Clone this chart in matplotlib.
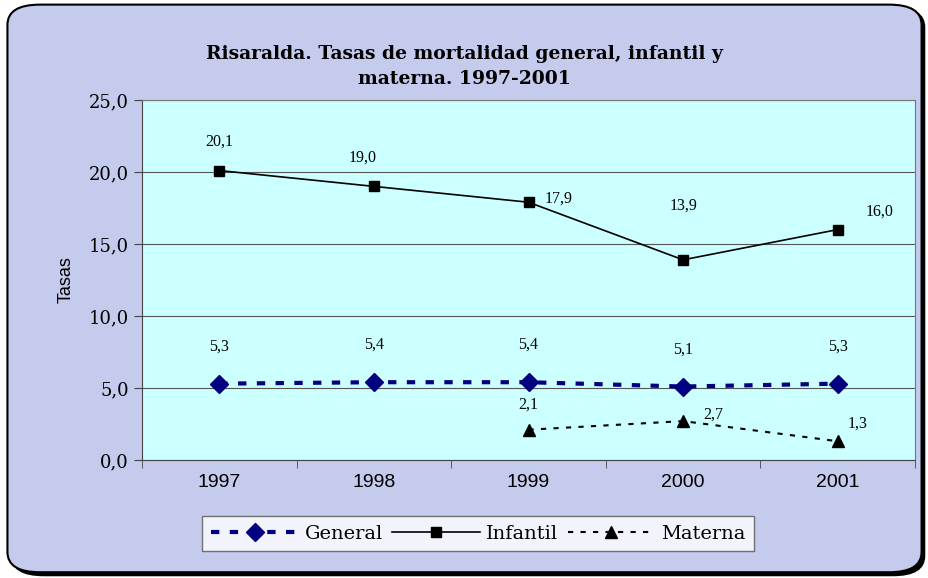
import numpy as np
import matplotlib.pyplot as plt
from matplotlib.patches import FancyBboxPatch

years = ["1997", "1998", "1999", "2000", "2001"]
general = [5.3, 5.4, 5.4, 5.1, 5.3]
infantil = [20.1, 19.0, 17.9, 13.9, 16.0]
materna = [np.nan, np.nan, 2.1, 2.7, 1.3]

general_lbl = ["5,3", "5,4", "5,4", "5,1", "5,3"]
infantil_lbl = ["20,1", "19,0", "17,9", "13,9", "16,0"]
materna_lbl = ["", "", "2,1", "2,7", "1,3"]

plt.rcParams['font.family'] = ['DejaVu Serif']

fig = plt.figure(figsize=(9.29, 5.78), dpi=100)
fig.patch.set_facecolor('white')

# rounded frame with shadow
shadow = FancyBboxPatch((0.012, 0.003), 0.984, 0.985, boxstyle="round,pad=0,rounding_size=0.035",
                        transform=fig.transFigure, facecolor='black', edgecolor='none', zorder=-3)
frame = FancyBboxPatch((0.008, 0.01), 0.984, 0.982, boxstyle="round,pad=0,rounding_size=0.035",
                       transform=fig.transFigure, facecolor='#c4cbec', edgecolor='black',
                       linewidth=1.5, zorder=-2)
fig.patches.extend([shadow, frame])

ax = fig.add_axes([0.1529, 0.2042, 0.832, 0.6228])
ax.set_facecolor('#ccffff')

x = np.arange(len(years))
ax.plot(x, general, color='#000080', linestyle=(0, (2.0, 2.5)), linewidth=3,
        marker='D', markersize=9, label='General', zorder=3)
ax.plot(x, infantil, color='black', linestyle='-', linewidth=1.2,
        marker='s', markersize=7, label='Infantil', zorder=3)
ax.plot(x, materna, color='black', linestyle=(0, (2.5, 3.5)), linewidth=1.5,
        marker='^', markersize=9, label='Materna', zorder=3)

ax.set_xlim(-0.5, 4.5)
ax.set_ylim(0, 25)
ax.set_yticks(np.arange(0, 26, 5))
ax.set_yticklabels([f"{v:.1f}".replace('.', ',') for v in np.arange(0, 26, 5)], fontsize=13)
ax.set_xticks(x)
ax.set_xticklabels(years, fontsize=14, family=['Liberation Sans'])
ax.set_xticks(np.arange(-0.5, 5, 1), minor=True)
ax.tick_params(axis='x', which='major', length=0, pad=10)
ax.tick_params(axis='x', which='minor', length=6, color='#444444')
ax.tick_params(axis='y', length=6, color='#444444')
ax.grid(axis='y', color='#555555', linewidth=0.8)
for s in ax.spines.values():
    s.set_color('#777777')
ax.spines['left'].set_color('#444444')
ax.spines['bottom'].set_color('#444444')

ax.set_ylabel('Tasas', fontsize=13, family=['Liberation Sans'], labelpad=10)

# data labels
for i in range(5):
    ax.annotate(general_lbl[i], (x[i], general[i]), textcoords='offset points',
                xytext=(0, 24), ha='center', fontsize=11.5, family=['Liberation Serif'])
inf_off = [(0, 18), (-8, 18), (22, 0), (0, 36), (30, 10)]
for i in range(5):
    ax.annotate(infantil_lbl[i], (x[i], infantil[i]), textcoords='offset points',
                xytext=inf_off[i], ha='center', fontsize=11.5, family=['Liberation Serif'])
mat_off = [(0, 0), (0, 0), (0, 15), (22, 2), (14, 10)]
for i in range(2, 5):
    ax.annotate(materna_lbl[i], (x[i], materna[i]), textcoords='offset points',
                xytext=mat_off[i], ha='center', fontsize=11.5, family=['Liberation Serif'])

fig.text(0.5, 0.885, "Risaralda. Tasas de mortalidad general, infantil y\nmaterna. 1997-2001",
         ha='center', va='center', fontsize=13.5, fontweight='bold', linespacing=1.55)

leg = ax.legend(loc='upper center', bbox_to_anchor=(0.435, -0.155), ncol=3, fontsize=14,
                frameon=True, fancybox=False, edgecolor='#555555', handlelength=4.5,
                columnspacing=0.5, handletextpad=0.3, borderpad=0.45, borderaxespad=0)
leg.get_frame().set_facecolor('white')
leg.get_frame().set_linewidth(1.0)

fig.savefig('out.png', dpi=100)
